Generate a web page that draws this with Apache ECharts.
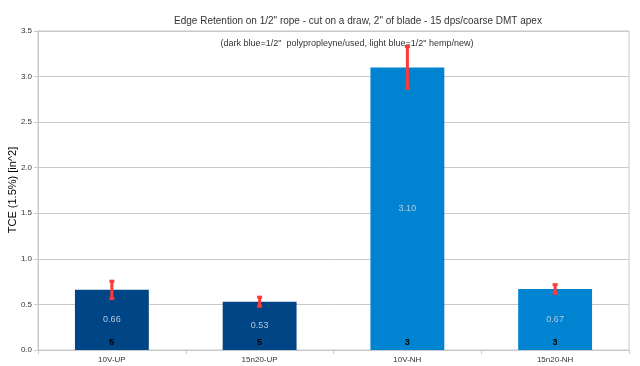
<!DOCTYPE html>
<html><head><meta charset="utf-8">
<script src="https://cdn.jsdelivr.net/npm/echarts@6/dist/echarts.min.js"></script>
<style>html,body{margin:0;padding:0;background:#fff}#c{width:640px;height:366px}</style>
</head><body><div id="c"></div>
<script>
const categories = ['10V-UP', '15n20-UP', '10V-NH', '15n20-NH'];
const values = [0.66, 0.53, 3.10, 0.67];
const errors = [0.095, 0.05, 0.23, 0.047];
const counts = [5, 5, 3, 3];
const barColors = ['#004586', '#004586', '#0084d1', '#0084d1'];
const titleText = 'Edge Retention on 1/2" rope - cut on a draw, 2" of blade - 15 dps/coarse DMT apex';
const subtitleText = '(dark blue=1/2"  polypropleyne/used, light blue=1/2" hemp/new)';
const yAxisName = 'TCE (1.5%) [in^2]';

const chart = echarts.init(document.getElementById('c'), null, {renderer: 'canvas'});
const font = 'Liberation Sans, Arial, sans-serif';
chart.setOption({
  animation: false,
  backgroundColor: '#fff',
  title: [
    {text: titleText, left: 353, top: 11, textAlign: 'center',
      textStyle: {fontFamily: font, fontSize: 10, fontWeight: 'normal', color: '#333'}},
    {text: subtitleText, left: 342, top: 34, textAlign: 'center',
      textStyle: {fontFamily: font, fontSize: 9, fontWeight: 'normal', color: '#333'}}
  ],
  graphic: [{
    type: 'text', x: 13, y: 190, rotation: Math.PI / 2,
    style: {text: yAxisName, font: '11px ' + font, fill: '#000',
      textAlign: 'center', textVerticalAlign: 'middle'}
  }],
  grid: {left: 38, right: 11, top: 31, bottom: 16, outerBoundsMode: 'none', containLabel: false,
    show: true, borderColor: '#c8c8c8', borderWidth: 1},
  xAxis: {
    type: 'category', data: categories,
    axisLine: {lineStyle: {color: '#c8c8c8'}},
    axisTick: {show: true, length: 4, lineStyle: {color: '#c8c8c8'}},
    axisLabel: {fontFamily: font, fontSize: 8, color: '#333', margin: 6}
  },
  yAxis: {
    type: 'value', min: 0, max: 3.5, interval: 0.5,
    axisLine: {show: true, lineStyle: {color: '#c8c8c8'}},
    axisTick: {show: true, length: 4, lineStyle: {color: '#c8c8c8'}},
    axisLabel: {fontFamily: font, fontSize: 8, color: '#333', margin: 6,
      formatter: v => v.toFixed(1)},
    splitLine: {lineStyle: {color: '#c8c8c8'}}
  },
  series: [
    {
      type: 'bar', barWidth: '50%',
      data: values.map((v, i) => ({value: v, itemStyle: {color: barColors[i]}})),
      label: {show: true, position: 'inside', fontFamily: font, fontSize: 9,
        color: '#b4c7dc', formatter: p => p.value.toFixed(2)}
    },
    {
      type: 'custom', z: 5,
      data: values.map((v, i) => [i, v, errors[i]]),
      renderItem: (params, api) => {
        const i = api.value(0), v = api.value(1), e = api.value(2);
        const top = api.coord([i, v + e]);
        const bot = api.coord([i, v - e]);
        const st = {stroke: '#ff3838', lineWidth: 3};
        return {type: 'group', children: [
          {type: 'line', shape: {x1: top[0], y1: top[1], x2: bot[0], y2: bot[1]}, style: st},
          {type: 'line', shape: {x1: top[0] - 2.5, y1: top[1], x2: top[0] + 2.5, y2: top[1]}, style: st},
          {type: 'line', shape: {x1: bot[0] - 2.5, y1: bot[1], x2: bot[0] + 2.5, y2: bot[1]}, style: st}
        ]};
      }
    },
    {
      type: 'custom', z: 6,
      data: counts.map((c, i) => [i, c]),
      renderItem: (params, api) => {
        const i = api.value(0), c = api.value(1);
        const p = api.coord([i, 0]);
        return {type: 'text', x: p[0], y: p[1] - 3,
          style: {text: String(c), fill: '#000', font: 'bold 9px ' + font,
            textAlign: 'center', textVerticalAlign: 'bottom'}};
      }
    }
  ]
});
</script></body></html>
